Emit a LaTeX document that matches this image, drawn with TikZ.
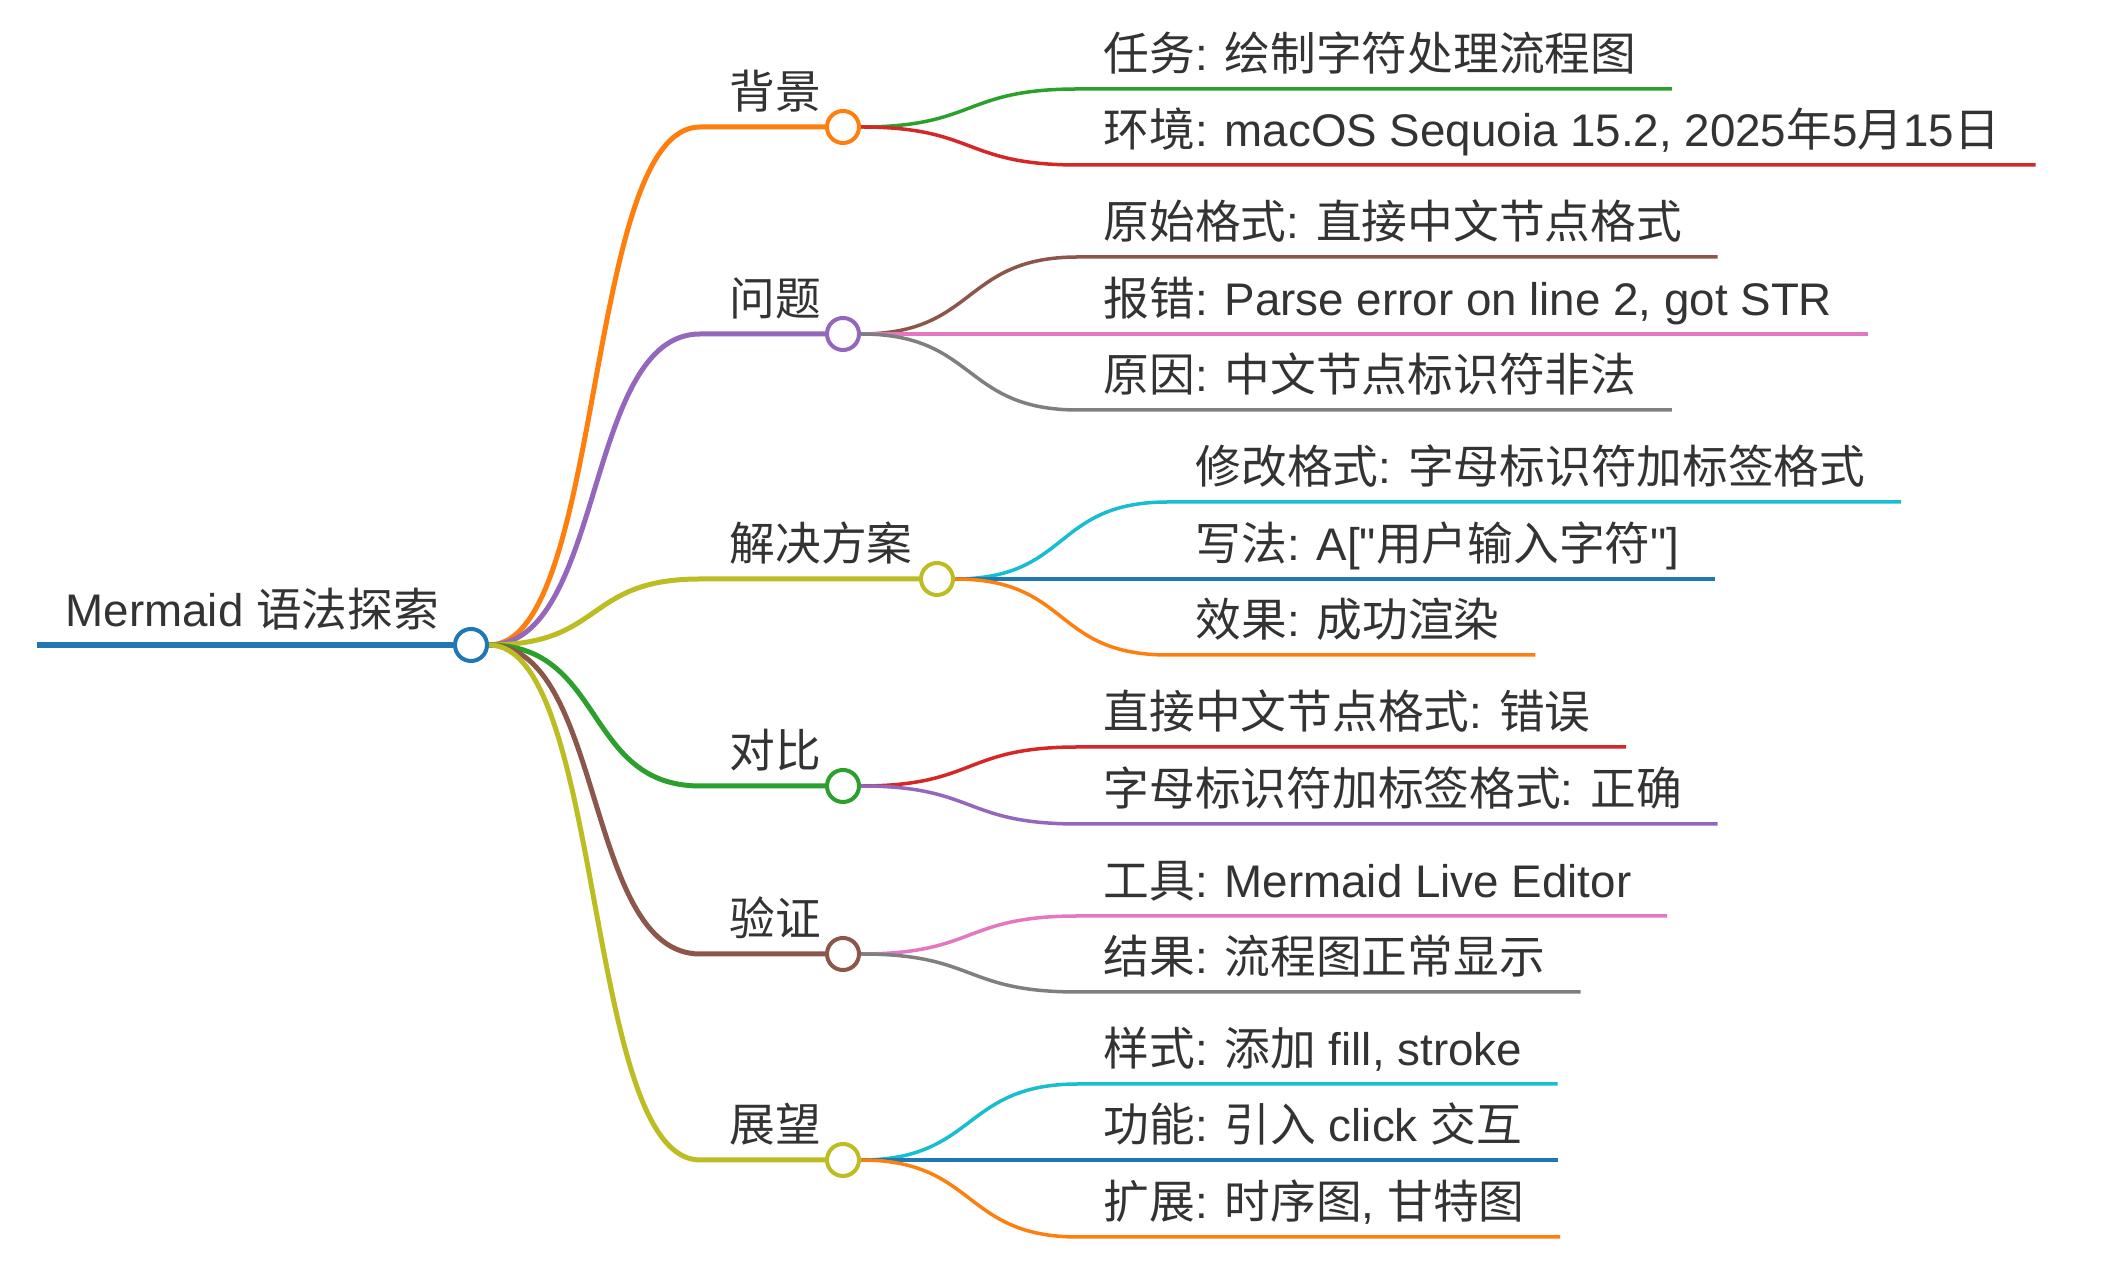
\documentclass[tikz,border=0pt]{standalone}
\usepackage{fontspec}
\setmainfont{Liberation Sans}[Ligatures=TeXOff]
\newfontfamily\cjk{Noto Sans CJK SC}
\usetikzlibrary{backgrounds}

\newcommand{\zh}[1]{{\cjk #1}}

\definecolor{cblue}{HTML}{1F77B4}
\definecolor{corange}{HTML}{FF7F0E}
\definecolor{cgreen}{HTML}{2CA02C}
\definecolor{cred}{HTML}{D62728}
\definecolor{cpurple}{HTML}{9467BD}
\definecolor{cbrown}{HTML}{8C564B}
\definecolor{cpink}{HTML}{E377C2}
\definecolor{cgray}{HTML}{7F7F7F}
\definecolor{colive}{HTML}{BCBD22}
\definecolor{ccyan}{HTML}{17BECF}
\definecolor{textgray}{HTML}{333333}

\begin{document}
\begin{tikzpicture}[x=0.01cm, y=-0.01cm,
        txt/.style={anchor=base west, inner sep=0pt, text=textgray, font=\fontsize{13pt}{15pt}\selectfont},
        dot/.style={circle, draw, fill=white, line width=0.04cm, minimum size=0.32cm, inner sep=0pt},
        trunk/.style={line width=0.055cm},
        branch/.style={line width=0.05cm},
        twig/.style={line width=0.035cm},
        swing/.style={out=0, in=180, distance=1.16cm}
    ]
        \useasboundingbox (0,0) rectangle (2102,1280);

        \coordinate (root0) at (37,645);
        \node[dot, draw=cblue] (root) at (471,645) {};
        \node[txt] (roottxt) at (65,627) {Mermaid \zh{语法探索}};

        \coordinate (bg0) at (700,127);
        \node[dot, draw=corange] (bg) at (843,127) {};
        \node[txt] (bgtxt) at (729,109) {\zh{背景}};

        \coordinate (wt0) at (700,334);
        \node[dot, draw=cpurple] (wt) at (843,334) {};
        \node[txt] (wttxt) at (729,316) {\zh{问题}};

        \coordinate (fa0) at (700,579);
        \node[dot, draw=colive] (fa) at (937,579) {};
        \node[txt] (fatxt) at (729,561) {\zh{解决方案}};

        \coordinate (db0) at (700,786);
        \node[dot, draw=cgreen] (db) at (843,786) {};
        \node[txt] (dbtxt) at (729,768) {\zh{对比}};

        \coordinate (yz0) at (700,954);
        \node[dot, draw=cbrown] (yz) at (843,954) {};
        \node[txt] (yztxt) at (729,936) {\zh{验证}};

        \coordinate (zw0) at (700,1160);
        \node[dot, draw=colive] (zw) at (843,1160) {};
        \node[txt] (zwtxt) at (729,1142) {\zh{展望}};

        \coordinate (task0) at (1078,89);
        \node[txt] (task) at (1103,71) {\zh{任务}: \zh{绘制字符处理流程图}};
        \coordinate (env0) at (1078,165);
        \node[txt] (env) at (1103,147) {\zh{环境}: macOS Sequoia 15.2, 2025\zh{年}5\zh{月}15\zh{日}};

        \coordinate (orig0) at (1078,257);
        \node[txt] (orig) at (1103,239) {\zh{原始格式}: \zh{直接中文节点格式}};
        \coordinate (err0) at (1078,334);
        \node[txt] (err) at (1103,316) {\zh{报错}: Parse error on line 2, got STR};
        \coordinate (cause0) at (1078,410);
        \node[txt] (cause) at (1103,392) {\zh{原因}: \zh{中文节点标识符非法}};

        \coordinate (fix0) at (1168,502);
        \node[txt] (fix) at (1195,484) {\zh{修改格式}: \zh{字母标识符加标签格式}};
        \coordinate (syntax0) at (1168,579);
        \node[txt] (syntax) at (1195,561) {\zh{写法}: A["\zh{用户输入字符}"]};
        \coordinate (effect0) at (1168,655);
        \node[txt] (effect) at (1195,637) {\zh{效果}: \zh{成功渲染}};

        \coordinate (wrong0) at (1078,747);
        \node[txt] (wrong) at (1103,729) {\zh{直接中文节点格式}: \zh{错误}};
        \coordinate (right0) at (1078,824);
        \node[txt] (right) at (1103,806) {\zh{字母标识符加标签格式}: \zh{正确}};

        \coordinate (tool0) at (1078,916);
        \node[txt] (tool) at (1103,898) {\zh{工具}: Mermaid Live Editor};
        \coordinate (result0) at (1078,992);
        \node[txt] (result) at (1103,974) {\zh{结果}: \zh{流程图正常显示}};

        \coordinate (look0) at (1078,1084);
        \node[txt] (look) at (1103,1066) {\zh{样式}: \zh{添加} fill, stroke};
        \coordinate (func0) at (1078,1160);
        \node[txt] (func) at (1103,1142) {\zh{功能}: \zh{引入} click \zh{交互}};
        \coordinate (ext0) at (1078,1237);
        \node[txt] (ext) at (1103,1219) {\zh{扩展}: \zh{时序图}, \zh{甘特图}};

        \begin{scope}[on background layer]
        \draw[trunk, cblue] (root0) -- (root);

        \draw[branch, corange] (root) to[swing] (bg0) -- (bg);
        \draw[branch, cpurple] (root) to[swing] (wt0) -- (wt);
        \draw[branch, colive] (root) to[swing] (fa0) -- (fa);
        \draw[branch, cgreen] (root) to[swing] (db0) -- (db);
        \draw[branch, cbrown] (root) to[swing] (yz0) -- (yz);
        \draw[branch, colive] (root) to[swing] (zw0) -- (zw);

        \draw[twig, cgreen] (bg) to[swing] (task0) -- (task0 -| task.east) -- ++(35,0);
        \draw[twig, cred] (bg) to[swing] (env0) -- (env0 -| env.east) -- ++(35,0);
        \draw[twig, cbrown] (wt) to[swing] (orig0) -- (orig0 -| orig.east) -- ++(35,0);
        \draw[twig, cpink] (wt) to[swing] (err0) -- (err0 -| err.east) -- ++(35,0);
        \draw[twig, cgray] (wt) to[swing] (cause0) -- (cause0 -| cause.east) -- ++(35,0);
        \draw[twig, ccyan] (fa) to[swing] (fix0) -- (fix0 -| fix.east) -- ++(35,0);
        \draw[twig, cblue] (fa) to[swing] (syntax0) -- (syntax0 -| syntax.east) -- ++(35,0);
        \draw[twig, corange] (fa) to[swing] (effect0) -- (effect0 -| effect.east) -- ++(35,0);
        \draw[twig, cred] (db) to[swing] (wrong0) -- (wrong0 -| wrong.east) -- ++(35,0);
        \draw[twig, cpurple] (db) to[swing] (right0) -- (right0 -| right.east) -- ++(35,0);
        \draw[twig, cpink] (yz) to[swing] (tool0) -- (tool0 -| tool.east) -- ++(35,0);
        \draw[twig, cgray] (yz) to[swing] (result0) -- (result0 -| result.east) -- ++(35,0);
        \draw[twig, ccyan] (zw) to[swing] (look0) -- (look0 -| look.east) -- ++(35,0);
        \draw[twig, cblue] (zw) to[swing] (func0) -- (func0 -| func.east) -- ++(35,0);
        \draw[twig, corange] (zw) to[swing] (ext0) -- (ext0 -| ext.east) -- ++(35,0);
        \end{scope}
    \end{tikzpicture}
\end{document}
